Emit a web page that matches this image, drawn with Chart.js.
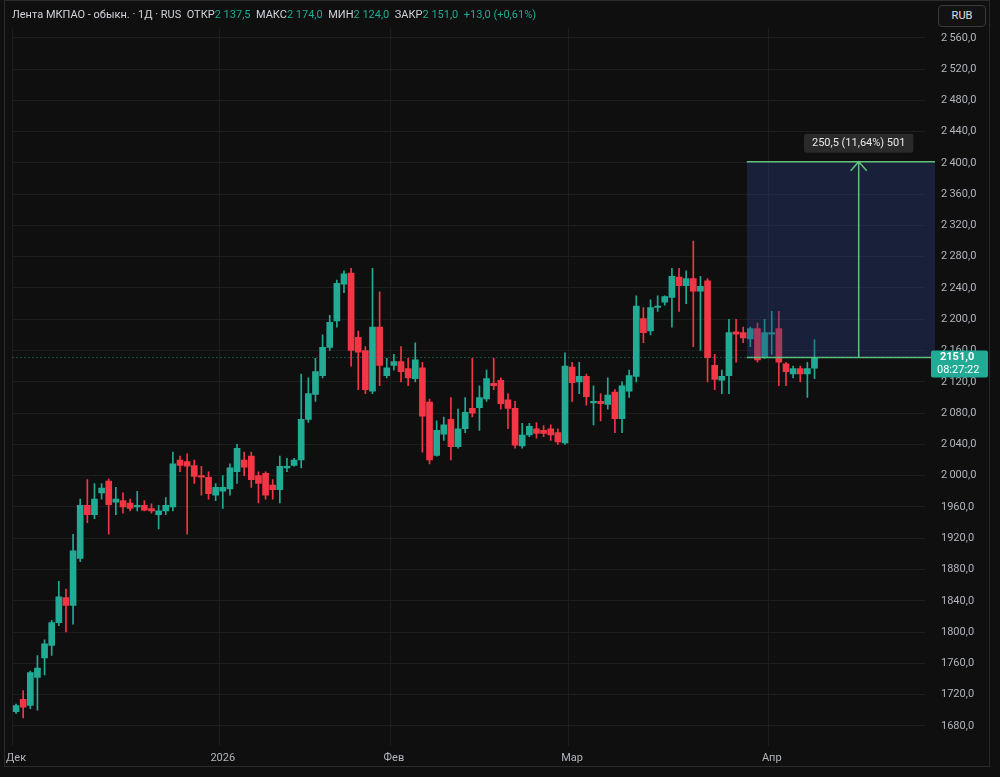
<!DOCTYPE html>
<html lang="ru">
<head>
<meta charset="utf-8">
<script src="https://cdn.jsdelivr.net/npm/chart.js@4.4.1/dist/chart.umd.min.js"></script>
<style>
  html, body { margin: 0; padding: 0; background: #1c1c1c; }
  #wrap { position: relative; width: 1000px; height: 777px; }
  #header { position: absolute; left: 12px; top: 8px; font: 11px Roboto, sans-serif; color: #d1d4dc; white-space: pre; }
  #header .v { color: #22ab94; }
  #rub { position: absolute; left: 938px; top: 5px; width: 48px; height: 22px; box-sizing: border-box;
         border: 1px solid #3a3a3a; border-radius: 4px; color: #e0e0e0; font: 11px Roboto, sans-serif;
         line-height: 20px; text-align: center; background: #121212; }
</style>
</head>
<body>
<div id="wrap">
  <canvas id="chart" width="1000" height="777"></canvas>
  <div id="header">Лента МКПАО - обыкн. · 1Д · RUS  ОТКР<span class="v">2 137,5</span>  МАКС<span class="v">2 174,0</span>  МИН<span class="v">2 124,0</span>  ЗАКР<span class="v">2 151,0</span>  <span class="v">+13,0 (+0,61%)</span></div>
  <div id="rub">RUB</div>
</div>
<script>
const UP = '#22ab94';
const DOWN = '#f23645';

// OHLC, дневные свечи с декабря по апрель
const opens = [1698,1714,1706,1742,1767,1783,1812,1844,1834,1894,1962,1950,1978,1993,1966,1968,1965,1960,1962,1958,1950,1955,1960,2020,2018,2013,2000,1998,1975,1980,1983,2005,2020,2025,2000,2003,1988,1982,2010,2013,2020,2072,2104,2128,2164,2198,2245,2259,2177,2160,2108,2190,2128,2141,2146,2137,2124,2138,2094,2026,2053,2072,2037,2060,2086,2087,2098,2118,2122,2097,2086,2038,2052,2060,2058,2060,2055,2042,2139,2120,2127,2093,2095,2091,2107,2073,2108,2127,2201,2185,2215,2222,2228,2254,2243,2252,2236,2249,2141,2122,2128,2184,2183,2175,2188,2152,2181,2188,2143,2130,2137,2130,2137.5];
const highs = [1708,1725,1750,1770,1790,1815,1865,1855,1925,1970,1995,1990,1990,1996,1985,1978,1970,1980,1968,1964,1962,1972,2030,2025,2028,2020,2012,2005,1990,2000,2015,2040,2030,2030,2005,2005,1995,2025,2022,2022,2130,2125,2150,2180,2205,2250,2262,2265,2185,2165,2265,2235,2150,2155,2165,2150,2170,2145,2098,2070,2075,2100,2085,2100,2150,2115,2135,2150,2125,2105,2095,2067,2067,2068,2064,2065,2060,2157,2145,2145,2130,2115,2105,2125,2110,2120,2135,2230,2215,2225,2230,2230,2265,2265,2262,2300,2255,2252,2155,2135,2200,2200,2190,2190,2195,2200,2210,2210,2145,2140,2140,2145,2174];
const lows = [1696,1690,1702,1700,1745,1770,1808,1800,1810,1890,1940,1945,1970,1925,1950,1952,1955,1955,1955,1952,1932,1950,1955,2005,1925,1990,1975,1970,1968,1958,1975,1990,2000,1985,1965,1970,1970,1965,2005,2012,2010,2068,2095,2125,2160,2190,2234,2140,2110,2105,2105,2115,2125,2135,2120,2115,2120,2030,2015,2025,2045,2020,2035,2055,2075,2058,2095,2110,2085,2060,2035,2035,2050,2048,2050,2045,2040,2040,2095,2105,2090,2065,2070,2085,2055,2055,2100,2120,2170,2180,2210,2218,2190,2210,2220,2165,2160,2120,2110,2105,2105,2145,2170,2165,2145,2150,2155,2115,2115,2125,2120,2100,2124];
const closes = [1706,1704,1748,1754,1785,1812,1845,1834,1904,1962,1950,1970,1984,1963,1970,1960,1958,1962,1956,1955,1955,1962,2015,2013,2012,1999,1998,1977,1985,1985,2010,2035,2011,1995,1990,1975,1982,2012,2012,2020,2072,2105,2133,2164,2196,2246,2258,2160,2158,2110,2190,2141,2138,2146,2133,2125,2148,2076,2020,2058,2065,2037,2060,2081,2080,2100,2124,2115,2092,2086,2039,2052,2063,2054,2054,2052,2043,2140,2119,2127,2101,2095,2092,2103,2073,2115,2128,2217,2183,2215,2217,2229,2255,2243,2252,2236,2242,2151,2123,2127,2183,2181,2176,2188,2148,2183,2183,2145,2133,2137,2130,2137,2151];

// подписи месяцев по индексу свечи
const monthTicks = { 0: 'Дек', 29: '2026', 53: 'Фев', 78: 'Мар', 106: 'Апр' };
const TOTAL_SLOTS = 128;

// инструмент «длинная позиция»
const posFrom = 2151;
const posTo = 2401.5;
const posStartIdx = 103;
const posArrowIdx = 118.2;
const posLabel = '250,5 (11,64%) 501';
const lastPrice = 2151;
const lastLabel = '2151,0';
const timer = '08:27:22';

const labels = Array.from({ length: TOTAL_SLOTS }, (_, i) => monthTicks[i] || '');
const colors = opens.map((o, i) => (closes[i] >= o ? UP : DOWN));

const fmtPrice = v => {
  const s = v.toFixed(1).replace('.', ',');
  return v >= 2000 ? s.slice(0, 1) + '\u2009' + s.slice(1) : s;
};

const overlay = {
  id: 'overlay',
  beforeDraw(chart) {
    const { ctx } = chart;
    ctx.save();
    ctx.fillStyle = '#0f0f0f';
    ctx.fillRect(0, 0, 1000, 777);
    ctx.strokeStyle = '#2a2a2a';
    ctx.lineWidth = 1;
    ctx.strokeRect(4.5, 0.5, 985, 766);
    ctx.restore();
  },
  afterDatasetsDraw(chart) {
    const { ctx, chartArea: a, scales: { x, y } } = chart;
    const step = x.getPixelForValue(1) - x.getPixelForValue(0);
    ctx.save();
    // позиция
    const left = x.getPixelForValue(posStartIdx) - step / 2;
    const right = a.right + 10;
    const yTop = y.getPixelForValue(posTo);
    const yBot = y.getPixelForValue(posFrom);
    ctx.fillStyle = 'rgba(41, 60, 130, 0.38)';
    ctx.fillRect(left, yTop, right - left, yBot - yTop);
    ctx.strokeStyle = '#5fc27a';
    ctx.lineWidth = 1.5;
    ctx.beginPath();
    ctx.moveTo(left, yTop); ctx.lineTo(right, yTop);
    ctx.moveTo(left, yBot); ctx.lineTo(right, yBot);
    const ax = x.getPixelForValue(0) + posArrowIdx * step;
    ctx.moveTo(ax, yBot); ctx.lineTo(ax, yTop);
    ctx.moveTo(ax - 8, yTop + 9); ctx.lineTo(ax, yTop); ctx.lineTo(ax + 8, yTop + 9);
    ctx.stroke();
    // подпись позиции
    ctx.font = '11px Roboto, sans-serif';
    const tw = ctx.measureText(posLabel).width + 16;
    ctx.fillStyle = '#2a2a2a';
    ctx.beginPath();
    ctx.roundRect(ax - tw / 2, yTop - 28, tw, 19, 3);
    ctx.fill();
    ctx.fillStyle = '#e8e8e8';
    ctx.textAlign = 'center';
    ctx.textBaseline = 'middle';
    ctx.fillText(posLabel, ax, yTop - 18);
    // пунктир последней цены
    const yl = y.getPixelForValue(lastPrice);
    ctx.strokeStyle = 'rgba(34, 171, 148, 0.8)';
    ctx.lineWidth = 1;
    ctx.setLineDash([1, 3]);
    ctx.beginPath();
    ctx.moveTo(a.left, yl); ctx.lineTo(a.right, yl);
    ctx.stroke();
    ctx.setLineDash([]);
    // метка последней цены
    ctx.fillStyle = UP;
    ctx.beginPath();
    ctx.roundRect(a.right + 6, yl - 7, 57, 27, 2);
    ctx.fill();
    ctx.fillStyle = '#ffffff';
    ctx.textAlign = 'left';
    ctx.font = 'bold 11px Roboto, sans-serif';
    ctx.fillText(lastLabel, a.right + 15, yl);
    ctx.font = '11px Roboto, sans-serif';
    ctx.fillText(timer, a.right + 12, yl + 13);
    ctx.restore();
  },
};

new Chart(document.getElementById('chart'), {
  type: 'bar',
  data: {
    labels,
    datasets: [
      {
        label: 'wick',
        data: lows.map((l, i) => [l, highs[i]]),
        backgroundColor: colors,
        barThickness: 1,
        grouped: false,
        order: 2,
      },
      {
        label: 'body',
        data: opens.map((o, i) => [o, closes[i]]),
        backgroundColor: colors,
        barThickness: 6,
        minBarLength: 1,
        grouped: false,
        order: 1,
      },
    ],
  },
  plugins: [overlay],
  options: {
    responsive: false,
    animation: false,
    layout: { padding: { left: 6, top: 28, bottom: 6, right: 0 } },
    plugins: { legend: { display: false }, tooltip: { enabled: false } },
    scales: {
      x: {
        grid: {
          color: ctx => (monthTicks[ctx.index] ? '#1d1d1d' : 'transparent'),
          drawTicks: false,
        },
        border: { display: false },
        ticks: {
          autoSkip: false,
          maxRotation: 0,
          padding: 6,
          color: '#b2b5be',
          font: { family: 'Roboto', size: 11 },
          callback: (v, i) => labels[i],
        },
      },
      y: {
        position: 'right',
        min: 1654.5,
        max: 2572.5,
        afterFit: s => { s.width = 75; },
        grid: { color: '#1d1d1d', drawTicks: false },
        border: { display: false },
        afterBuildTicks: s => {
          const t = [];
          for (let v = 1680; v <= 2560; v += 40) t.push({ value: v });
          s.ticks = t;
        },
        ticks: {
          color: '#b2b5be',
          padding: 16,
          font: { family: 'Roboto', size: 11 },
          callback: v => fmtPrice(v),
        },
      },
    },
  },
});
</script>
</body>
</html>
